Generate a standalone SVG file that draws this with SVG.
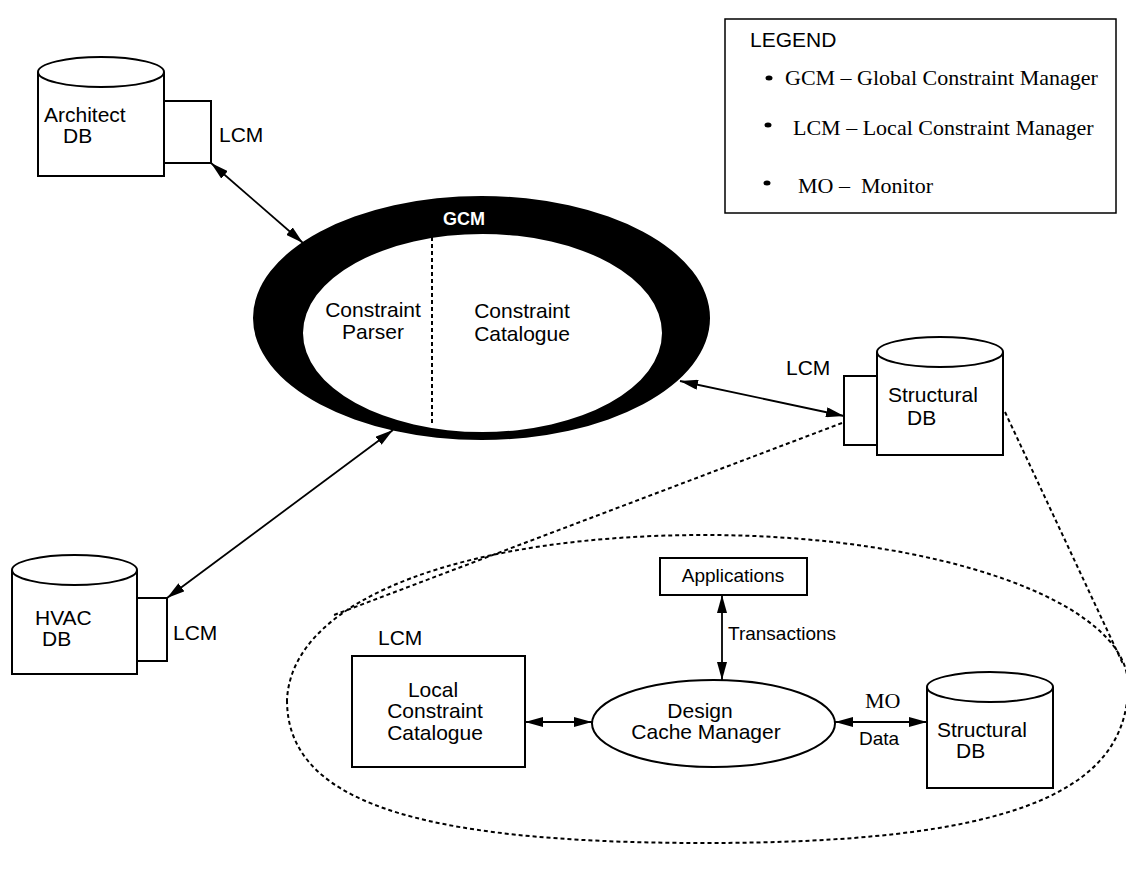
<svg xmlns="http://www.w3.org/2000/svg" width="1126" height="871" viewBox="0 0 1126 871">
<style>
.s{font-family:"Liberation Sans",Arial,sans-serif;font-size:21px;fill:#000}
.sm{font-family:"Liberation Sans",Arial,sans-serif;font-size:19px;fill:#000}
.r{font-family:"Liberation Serif","Times New Roman",serif;font-size:22px;fill:#000}
.sh{fill:#fff;stroke:#000;stroke-width:2}
.ar{fill:none;stroke:#000;stroke-width:1.8;marker-start:url(#ah);marker-end:url(#ah)}
.ds{fill:none;stroke:#000;stroke-width:2;stroke-dasharray:4 3}
.bl{fill:#000}
</style>
<defs>
<marker id="ah" markerUnits="userSpaceOnUse" markerWidth="18" markerHeight="10" refX="18" refY="5" orient="auto-start-reverse">
<path d="M0,0 L18,5 L0,10 z" fill="#000"/>
</marker>
</defs>
<rect width="1126" height="871" fill="#fff"/>

<g id="connectors">
<path class="ds" d="M287,700 C287,800 412,843 705,843 C1001,843 1128,796 1128,685 C1128,602 938,535 705,535 C474,535 292,595 287,700 Z"/>
<path class="ds" d="M842,423 L334,615"/>
<path class="ds" d="M1005,412 L1123,664"/>
<path class="ar" d="M211,163 L303,243"/>
<path class="ar" d="M167,598 L393,430"/>
<path class="ar" d="M680,381 L844,416"/>
<path class="ar" d="M525,722 L592,722"/>
<path class="ar" d="M722,595 L722,680"/>
<path class="ar" d="M835,722 L927,722"/>
</g>

<g id="gcm">
<path fill="#000" fill-rule="evenodd" d="M253,318 a228.5,122 0 1,0 457,0 a228.5,122 0 1,0 -457,0 z M303,333 a179.5,99 0 1,0 359,0 a179.5,99 0 1,0 -359,0 z"/>
<text x="464" y="225" text-anchor="middle" style="font-family:'Liberation Sans',Arial,sans-serif;font-size:18px;font-weight:bold;fill:#fff">GCM</text>
<path d="M432,237 L432,424" fill="none" stroke="#000" stroke-width="2" stroke-dasharray="4 3"/>
<text class="s" x="373" y="317" text-anchor="middle">Constraint</text>
<text class="s" x="373" y="339" text-anchor="middle">Parser</text>
<text class="s" x="522" y="318" text-anchor="middle">Constraint</text>
<text class="s" x="522" y="341" text-anchor="middle">Catalogue</text>
</g>

<g id="architect-db">
<path class="sh" d="M38,72 L38,176 L164,176 L164,72"/>
<ellipse class="sh" cx="101" cy="72" rx="63" ry="15"/>
<text class="s" x="44" y="122">Architect</text>
<text class="s" x="63" y="143">DB</text>
<rect class="sh" x="164" y="101" width="47" height="62"/>
<text class="s" x="219" y="142">LCM</text>
</g>

<g id="hvac-db">
<path class="sh" d="M12,570 L12,674 L137,674 L137,570"/>
<ellipse class="sh" cx="74.5" cy="570" rx="62.5" ry="15"/>
<text class="s" x="35" y="625">HVAC</text>
<text class="s" x="42" y="646">DB</text>
<rect class="sh" x="137" y="598" width="30" height="63"/>
<text class="s" x="173" y="640">LCM</text>
</g>

<g id="structural-db">
<path class="sh" d="M877,352 L877,455 L1003,455 L1003,352"/>
<ellipse class="sh" cx="940" cy="352" rx="63" ry="15"/>
<text class="s" x="888" y="402">Structural</text>
<text class="s" x="907" y="425">DB</text>
<rect class="sh" x="844" y="376" width="33" height="69"/>
<text class="s" x="786" y="375">LCM</text>
</g>

<g id="legend">
<rect x="725" y="19" width="391" height="194" fill="#fff" stroke="#000" stroke-width="1.5"/>
<text class="s" x="750" y="47">LEGEND</text>
<ellipse class="bl" cx="769" cy="78" rx="3.5" ry="2.5"/>
<text class="r" x="785" y="85">GCM – Global Constraint Manager</text>
<ellipse class="bl" cx="768" cy="125" rx="3.5" ry="2.5"/>
<text class="r" x="793" y="135">LCM – Local Constraint Manager</text>
<ellipse class="bl" cx="767" cy="183" rx="3.5" ry="2.5"/>
<text class="r" x="798" y="193" xml:space="preserve">MO –  Monitor</text>
</g>

<g id="local-constraint-catalogue">
<text class="s" x="378" y="645">LCM</text>
<rect class="sh" x="352" y="656" width="173" height="111"/>
<text class="s" x="433" y="697" text-anchor="middle">Local</text>
<text class="s" x="435" y="718" text-anchor="middle">Constraint</text>
<text class="s" x="435" y="740" text-anchor="middle">Catalogue</text>
</g>

<g id="design-cache-manager">
<ellipse class="sh" cx="713.5" cy="723.5" rx="121.5" ry="43.5"/>
<text class="s" x="700" y="718" text-anchor="middle">Design</text>
<text class="s" x="706" y="739" text-anchor="middle">Cache Manager</text>
</g>

<g id="applications">
<rect class="sh" x="660" y="558" width="147" height="37"/>
<text class="sm" x="733" y="582" text-anchor="middle">Applications</text>
</g>

<g id="labels">
<text class="sm" x="728" y="640">Transactions</text>
<text class="r" x="865" y="708">MO</text>
<text class="sm" x="859" y="745">Data</text>
</g>

<g id="structural-db-local">
<path class="sh" d="M927,687 L927,788 L1053,788 L1053,687"/>
<ellipse class="sh" cx="990" cy="687" rx="63" ry="15"/>
<text class="s" x="937" y="737">Structural</text>
<text class="s" x="956" y="758">DB</text>
</g>
</svg>
